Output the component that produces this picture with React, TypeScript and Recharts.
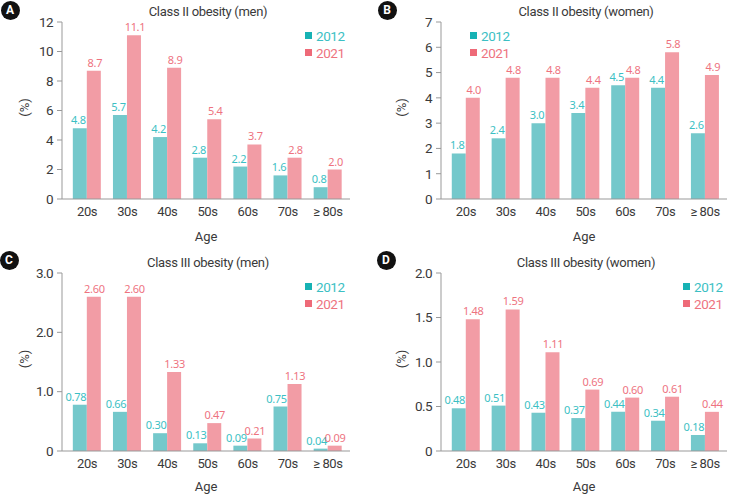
import { BarChart, Bar, XAxis, YAxis, LabelList, Legend, Label } from "recharts";

const ages = ["20s", "30s", "40s", "50s", "60s", "70s", "≥ 80s"];

const men2Y2012 = [4.8, 5.7, 4.2, 2.8, 2.2, 1.6, 0.8];
const men2Y2021 = [8.7, 11.1, 8.9, 5.4, 3.7, 2.8, 2.0];
const women2Y2012 = [1.8, 2.4, 3.0, 3.4, 4.5, 4.4, 2.6];
const women2Y2021 = [4.0, 4.8, 4.8, 4.4, 4.8, 5.8, 4.9];
const men3Y2012 = [0.78, 0.66, 0.3, 0.13, 0.09, 0.75, 0.04];
const men3Y2021 = [2.6, 2.6, 1.33, 0.47, 0.21, 1.13, 0.09];
const women3Y2012 = [0.48, 0.51, 0.43, 0.37, 0.44, 0.34, 0.18];
const women3Y2021 = [1.48, 1.59, 1.11, 0.69, 0.6, 0.61, 0.44];

const ticksA = [0, 2, 4, 6, 8, 10, 12];
const ticksB = [0, 1, 2, 3, 4, 5, 6, 7];
const ticksC = [0, 1, 2, 3];
const ticksD = [0, 0.5, 1, 1.5, 2];

const TEAL = "#74c8cb";
const PINK = "#f29ca5";
const TEAL_TXT = "#3cbfc4";
const PINK_TXT = "#ee737f";
const TEAL_KEY = "#17b2b4";
const PINK_KEY = "#ee6a78";
const INK = "#3a3a3a";

const NARROW = "Roboto, sans-serif";
const ROUND = '"Noto Sans", "Open Sans", sans-serif';

const build = (a: number[], b: number[]) =>
  ages.map((age, i) => ({ age, y2012: a[i], y2021: b[i] }));

interface PanelProps {
  letter: string;
  title: string;
  left: number;
  top: number;
  width: number;
  height: number;
  yWidth: number;
  marginTop: number;
  marginRight: number;
  xHeight: number;
  a: number[];
  b: number[];
  ticks: number[];
  tickFmt: (v: number) => string;
  valFmt: (v: number) => string;
  tealDx: number;
  pinkDx: number;
  ageDy: number;
  titleX: number;
  titleY: number;
  badgeX: number;
  badgeY: number;
  legendX: number;
  legendY: number;
  yLabelX: number;
}

function Panel(p: PanelProps) {
  const data = build(p.a, p.b);
  const max = p.ticks[p.ticks.length - 1];
  return (
    <div style={{ position: "absolute", left: p.left, top: p.top, width: p.width, height: p.height }}>
      <BarChart
        width={p.width}
        height={p.height}
        data={data}
        margin={{ top: p.marginTop, right: p.marginRight, bottom: 0, left: 0 }}
        barCategoryGap="14.5%"
        barGap={0}
      >
        <XAxis
          dataKey="age"
          height={p.xHeight}
          padding={{ left: 5, right: 2 }}
          tickLine={false}
          axisLine={{ stroke: "#999" }}
          tick={{ fill: INK, fontSize: 13, fontFamily: NARROW, letterSpacing: -0.4 }}
          interval={0}
        >
          <Label
            content={(lp: any) => (
              <text
                x={lp.viewBox.x + lp.viewBox.width / 2}
                y={lp.viewBox.y + p.ageDy}
                textAnchor="middle"
                dominantBaseline="central"
                fill={INK}
                fontSize={13}
                fontFamily={NARROW}
              >
                Age
              </text>
            )}
          />
        </XAxis>
        <YAxis
          width={p.yWidth}
          domain={[0, max]}
          ticks={p.ticks}
          tickFormatter={p.tickFmt}
          tickSize={5}
          tickMargin={4}
          tickLine={{ stroke: "#999" }}
          axisLine={{ stroke: "#999" }}
          tick={{ fill: INK, fontSize: 13.5, fontFamily: NARROW, letterSpacing: -0.6 }}
          interval={0}
        >
          <Label
            content={(lp: any) => {
              const cx = lp.viewBox.x + p.yLabelX;
              const cy = lp.viewBox.y + lp.viewBox.height / 2 - 3;
              return (
                <text
                  x={cx}
                  y={cy}
                  transform={`rotate(-90 ${cx} ${cy})`}
                  textAnchor="middle"
                  dominantBaseline="central"
                  fill={INK}
                  fontSize={13}
                  fontFamily={NARROW}
                >
                  (%)
                </text>
              );
            }}
          />
        </YAxis>
        <Legend
          layout="vertical"
          align="center"
          verticalAlign="middle"
          wrapperStyle={{ left: p.legendX, top: p.legendY, width: 60 }}
          content={() => (
            <div style={{ fontFamily: NARROW, fontSize: 13.5, letterSpacing: -0.4 }}>
              {[
                { name: "2012", key: TEAL_KEY, txt: TEAL_TXT },
                { name: "2021", key: PINK_KEY, txt: PINK_TXT },
              ].map((s) => (
                <div key={s.name} style={{ display: "flex", alignItems: "center", height: 17 }}>
                  <span style={{ width: 7, height: 7, background: s.key, marginRight: 4, display: "inline-block" }} />
                  <span style={{ color: s.txt }}>{s.name}</span>
                </div>
              ))}
            </div>
          )}
        />
        <Bar dataKey="y2012" fill={TEAL} isAnimationActive={false}>
          <LabelList
            dataKey="y2012"
            position="top"
            offset={4}
            dx={p.tealDx}
            formatter={(v: any) => p.valFmt(Number(v))}
            fill={TEAL_TXT}
            fontSize={11}
            letterSpacing={-0.3}
            fontFamily={ROUND}
          />
        </Bar>
        <Bar dataKey="y2021" fill={PINK} isAnimationActive={false}>
          <LabelList
            dataKey="y2021"
            position="top"
            offset={4}
            dx={p.pinkDx}
            formatter={(v: any) => p.valFmt(Number(v))}
            fill={PINK_TXT}
            fontSize={11}
            letterSpacing={-0.3}
            fontFamily={ROUND}
          />
        </Bar>
      </BarChart>
      <div
        style={{
          position: "absolute",
          left: p.badgeX - 9.5,
          top: p.badgeY - 9.5,
          width: 19,
          height: 19,
          borderRadius: "50%",
          background: "#111",
          color: "#fff",
          fontFamily: "Roboto, sans-serif",
          fontWeight: 700,
          fontSize: 12,
          lineHeight: "19px",
          textAlign: "center",
        }}
      >
        {p.letter}
      </div>
      <div
        style={{
          position: "absolute",
          left: p.titleX - 100,
          top: p.titleY - 9,
          width: 200,
          textAlign: "center",
          fontFamily: NARROW,
          fontSize: 13,
          lineHeight: "18px",
          letterSpacing: -0.3,
          color: INK,
        }}
      >
        {p.title}
      </div>
    </div>
  );
}

const f1 = (v: number) => v.toFixed(1);
const f2 = (v: number) => v.toFixed(2);
const int = (v: number) => String(v);
const tickC = (v: number) => (v === 0 ? "0" : v.toFixed(1));

export default function App() {
  return (
    <div style={{ position: "absolute", left: 0, top: 0, width: 729, height: 494, background: "#fff" }}>
      <Panel
        letter="A"
        title="Class II obesity (men)"
        left={0}
        top={0}
        width={364}
        height={244}
        yWidth={62}
        marginTop={22}
        marginRight={14}
        xHeight={45}
        a={men2Y2012}
        b={men2Y2021}
        ticks={ticksA}
        tickFmt={int}
        valFmt={f1}
        tealDx={-1.5}
        pinkDx={1}
        ageDy={37}
        titleX={208}
        titleY={12}
        badgeX={10}
        badgeY={10}
        legendX={305}
        legendY={27}
        yLabelX={24}
      />
      <Panel
        letter="B"
        title="Class II obesity (women)"
        left={364}
        top={0}
        width={365}
        height={244}
        yWidth={77}
        marginTop={22}
        marginRight={2}
        xHeight={45}
        a={women2Y2012}
        b={women2Y2021}
        ticks={ticksB}
        tickFmt={int}
        valFmt={f1}
        tealDx={-1.5}
        pinkDx={1}
        ageDy={37}
        titleX={222}
        titleY={12}
        badgeX={23}
        badgeY={10}
        legendX={106}
        legendY={27}
        yLabelX={37}
      />
      <Panel
        letter="C"
        title="Class III obesity (men)"
        left={0}
        top={244}
        width={364}
        height={250}
        yWidth={62}
        marginTop={29}
        marginRight={14}
        xHeight={43}
        a={men3Y2012}
        b={men3Y2021}
        ticks={ticksC}
        tickFmt={tickC}
        valFmt={f2}
        tealDx={-4}
        pinkDx={0.5}
        ageDy={35}
        titleX={208}
        titleY={19}
        badgeX={9}
        badgeY={16}
        legendX={305}
        legendY={34}
        yLabelX={24}
      />
      <Panel
        letter="D"
        title="Class III obesity (women)"
        left={364}
        top={244}
        width={365}
        height={250}
        yWidth={77}
        marginTop={29}
        marginRight={2}
        xHeight={43}
        a={women3Y2012}
        b={women3Y2021}
        ticks={ticksD}
        tickFmt={tickC}
        valFmt={f2}
        tealDx={-4}
        pinkDx={0.5}
        ageDy={35}
        titleX={222}
        titleY={19}
        badgeX={22}
        badgeY={16}
        legendX={319}
        legendY={34}
        yLabelX={37}
      />
    </div>
  );
}
